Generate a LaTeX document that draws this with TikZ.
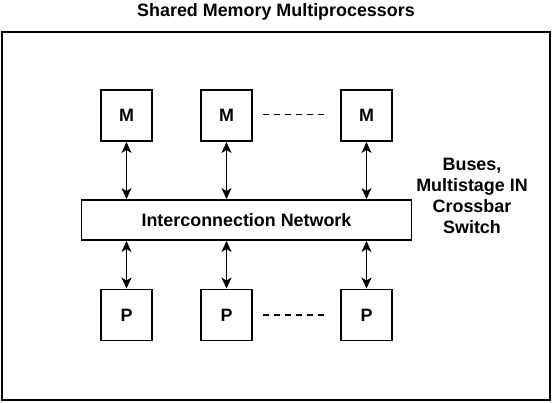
\documentclass[tikz,border=0pt]{standalone}
\usepackage{fontspec}
\setmainfont{Liberation Sans}
\usetikzlibrary{arrows.meta,calc}
\begin{document}
\begin{tikzpicture}[x=1pt,y=-1pt,
  lbl/.style={font=\fontsize{17.9}{21}\selectfont\bfseries},
  unitbox/.style={draw, line width=1.9pt, minimum width=51pt, minimum height=51pt, inner sep=0pt, lbl},
  netbox/.style={draw, line width=1.9pt, minimum width=330pt, minimum height=40pt, inner sep=0pt, lbl},
  link/.style={line width=1.9pt, {Stealth[length=11pt,width=10pt,inset=3pt]}-{Stealth[length=11pt,width=10pt,inset=3pt]}},
  dots/.style={line width=1.9pt, dash pattern=on 6pt off 5pt}]
\useasboundingbox (0,0) rectangle (552,402);
\node[draw, line width=1.9pt, minimum width=548pt, minimum height=368pt, inner sep=0pt] (frame) at (276,216) {};
\node[lbl] (title) at (276,12) {Shared Memory Multiprocessors};
\node[unitbox] (m1) at (126.5,115.5) {M};
\node[unitbox] (m2) at (226.5,115.5) {M};
\node[unitbox] (m3) at (366.5,115.5) {M};
\node[netbox] (net) at (246.5,220) {Interconnection Network};
\node[unitbox] (p1) at (126.5,315) {P};
\node[unitbox] (p2) at (226.5,315) {P};
\node[unitbox] (p3) at (366.5,315) {P};
\node[lbl, align=center] (note) at (472,196) {Buses,\\Multistage IN\\Crossbar\\Switch};
\draw[dots] ($(m2.east)+(10,-1)$) -- ($(m3.west)+(-13,-1)$);
\foreach \i in {1,2,3} {
  \draw[link] (m\i.south) -- (m\i.south |- net.north);
  \draw[link] (p\i.north |- net.south) -- (p\i.north);
}
\draw[dots] ($(p2.east)+(10,0)$) -- ($(p3.west)+(-13,0)$);
\end{tikzpicture}
\end{document}
